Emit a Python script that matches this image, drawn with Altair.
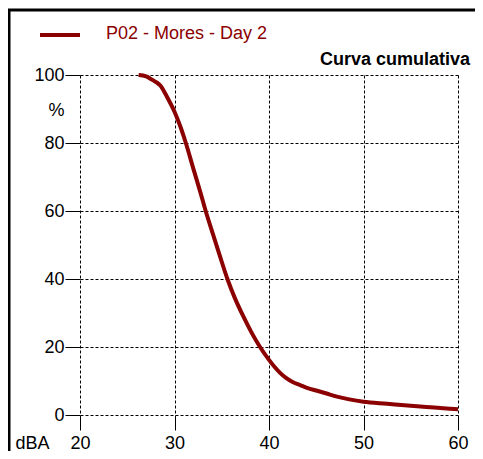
import altair as alt
import pandas as pd

# cumulative curve (dBA vs %)
dba = [26.2, 27.0, 27.4, 28.0, 28.5, 29.2, 30.0, 30.6, 31.2, 32.0, 32.8, 33.3, 34.0, 34.8,
       35.6, 36.4, 37.3, 38.2, 39.05, 40.0, 40.6, 41.2, 41.8, 42.5, 43.3, 44.1,
       45.0, 46.0, 47.2, 48.5, 50.0, 52.5, 55.0, 57.5, 60.0]
pct = [100, 99.6, 99.0, 98.0, 96.9, 93.6, 89.2, 85.0, 80.0, 72.4, 64.9, 60.0, 53.8, 46.8,
       40.0, 34.3, 28.9, 24.0, 20.0, 16.2, 14.1, 12.3, 10.9, 9.7, 8.8, 7.9,
       7.2, 6.4, 5.4, 4.6, 3.9, 3.3, 2.7, 2.2, 1.7]

x_ticks = [20, 30, 40, 50, 60]
y_ticks = [0, 20, 40, 60, 80, 100]

series_label = "P02 - Mores - Day 2"
chart_title = "Curva cumulativa"
x_title = "dBA"
y_title = "%"

RED = "#8B0000"
FONT = "Liberation Sans"

df = pd.DataFrame({"dba": dba, "pct": pct})

line = alt.Chart(df).mark_line(color=RED, strokeWidth=4, interpolate="monotone").encode(
    x=alt.X("dba:Q",
            scale=alt.Scale(domain=[20, 60], nice=False, zero=False),
            axis=alt.Axis(values=x_ticks, title=x_title, titleAngle=0, titleX=-65, titleY=33,
                          titleAlign="left", titleBaseline="alphabetic",
                          titleFont=FONT, titleFontSize=18, titleFontWeight="normal",
                          titleColor="black",
                          labelFlush=False, labelOverlap=False, tickSize=15, labelPadding=4)),
    y=alt.Y("pct:Q",
            scale=alt.Scale(domain=[0, 100], nice=False),
            axis=alt.Axis(values=y_ticks, title=y_title, titleAngle=0, titleX=-24, titleY=35,
                          titleAlign="center", titleBaseline="middle",
                          titleFont=FONT, titleFontSize=18, titleFontWeight="normal",
                          titleColor="black",
                          tickSize=15, labelPadding=1)),
)

legend_line = alt.Chart(pd.DataFrame({"t": [series_label]})).mark_rule(
    color=RED, strokeWidth=4).encode(
    x=alt.value(-40), x2=alt.value(0), y=alt.value(-40))

legend_text = alt.Chart(pd.DataFrame({"t": [series_label]})).mark_text(
    color=RED, font=FONT, fontSize=18, align="left", baseline="middle").encode(
    text="t:N", x=alt.value(26), y=alt.value(-41))

title_text = alt.Chart(pd.DataFrame({"t": [chart_title]})).mark_text(
    color="black", font=FONT, fontSize=18, fontWeight="bold", align="right",
    baseline="alphabetic").encode(
    text="t:N", x=alt.value(390), y=alt.value(-10))

frame_top = alt.Chart(pd.DataFrame({"t": [0]})).mark_rule(
    color="black", strokeWidth=3).encode(
    x=alt.value(-72), x2=alt.value(410), y=alt.value(-65))

frame_left = alt.Chart(pd.DataFrame({"t": [0]})).mark_rule(
    color="black", strokeWidth=3).encode(
    x=alt.value(-71), y=alt.value(-66), y2=alt.value(380))

chart = alt.layer(frame_top, frame_left, line, legend_line, legend_text, title_text).properties(
    width=378, height=340,
    padding={"left": 72, "top": 67, "right": 17, "bottom": 36},
    autosize=alt.AutoSizeParams(type="none"),
    background="white",
).configure_view(stroke=None).configure_axis(
    domain=False,
    grid=True, gridColor="black", gridDash=[3, 2], gridWidth=1, gridOpacity=1,
    tickColor="black", tickWidth=1,
    labelFont=FONT, labelFontSize=18, labelColor="black",
)

chart.save("out.html", embed_options={"renderer": "svg", "actions": False})
